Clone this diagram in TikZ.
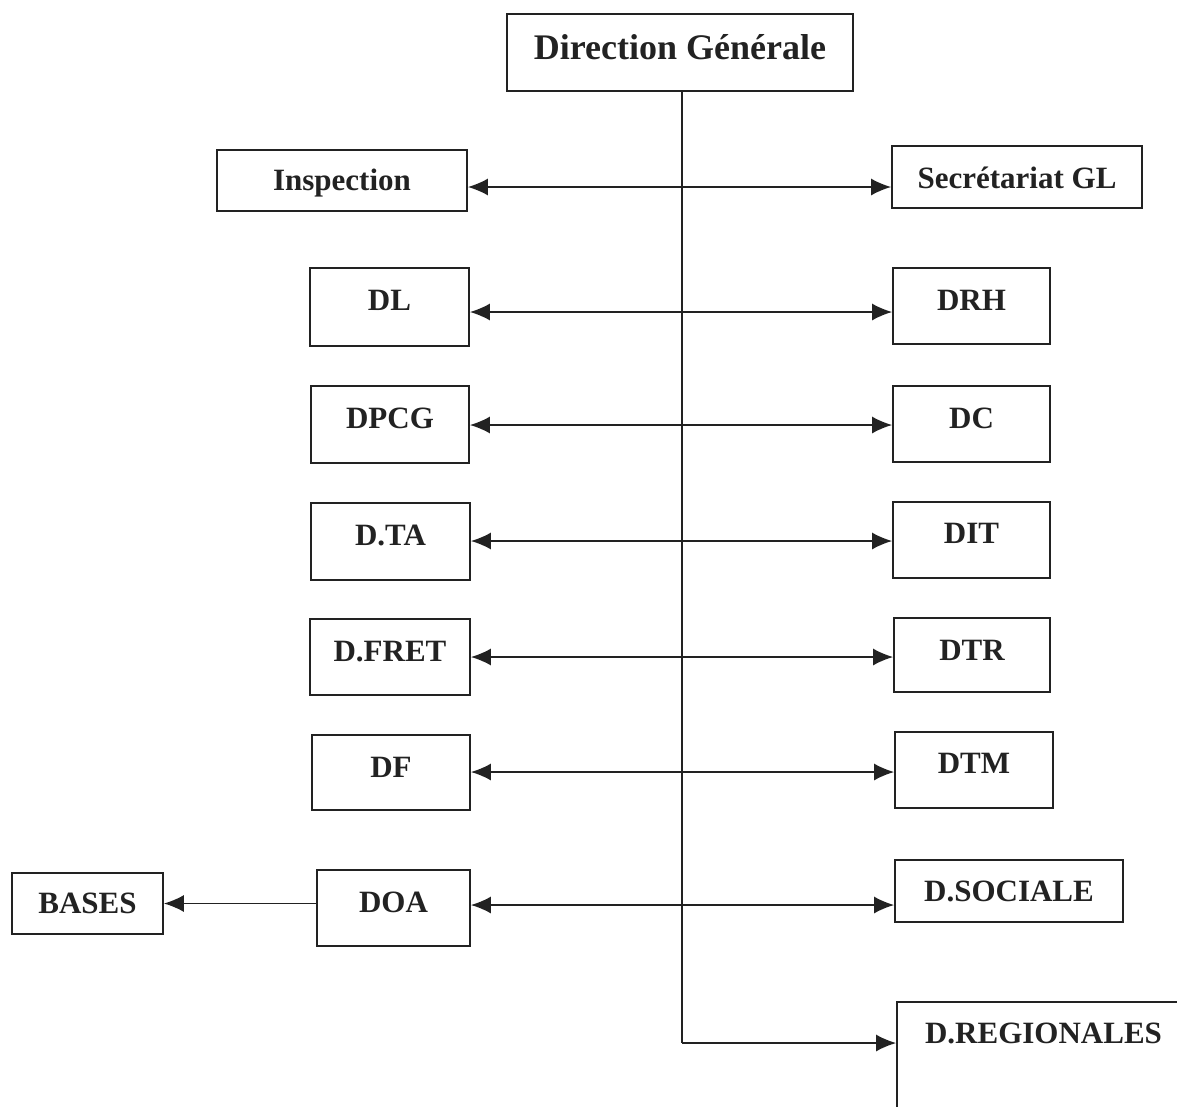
\documentclass[tikz,border=0pt]{standalone}
\usepackage{fontspec}
\setmainfont{Liberation Serif}
\usetikzlibrary{arrows.meta}
\definecolor{ink}{HTML}{222222}
\tikzset{
  tip/.tip={Latex[length=20pt,width=17pt]},
  box/.style={draw=ink, line width=1.8pt, inner sep=0pt, text=ink,
    font=\fontsize{31}{36}\selectfont\bfseries},
  link/.style={draw=ink, line width=1.5pt, tip-tip},
  onelink/.style={draw=ink, line width=1.5pt, -tip},
  spine/.style={draw=ink, line width=1.5pt}
}
% text lifted inside its box without changing the box size
\newcommand{\up}[2]{\raisebox{#1pt}[\height][\depth]{#2}}
\begin{document}
\begin{tikzpicture}[x=1pt,y=-1pt]
\useasboundingbox (0,0) rectangle (1177,1106);
\clip (0,0) rectangle (1177,1106);
\fill[white] (0,0) rectangle (1177,1106);

% head of the organisation
\node[box, minimum width=346, minimum height=77,
  font=\fontsize{36}{40}\selectfont\bfseries] (dg) at (680,52.5) {\up{5}{Direction Générale}};

% left column
\node[box, minimum width=250, minimum height=61] (insp) at (342,180.5) {\up{-3}{Inspection}};
\node[box, minimum width=159, minimum height=78] (dl)   at (389.5,307) {\up{7}{DL}};
\node[box, minimum width=158, minimum height=77] (dpcg) at (390,424.5) {\up{6.5}{DPCG}};
\node[box, minimum width=159, minimum height=77] (dta)  at (390.5,541.5) {\up{6.5}{D.TA}};
\node[box, minimum width=160, minimum height=76] (dfret) at (390,657) {\up{5.5}{D.FRET}};
\node[box, minimum width=158, minimum height=75] (df)   at (391,772.5) {\up{5.5}{DF}};
\node[box, minimum width=153, minimum height=76] (doa)  at (393.5,908) {\up{5.5}{DOA}};
\node[box, minimum width=151, minimum height=61] (bases) at (87.5,903.5) {BASES};

% right column
\node[box, minimum width=250, minimum height=62] (sec)  at (1017,177) {\up{-1}{Secrétariat GL}};
\node[box, minimum width=157, minimum height=76] (drh)  at (971.5,306) {\up{6}{DRH}};
\node[box, minimum width=157, minimum height=76] (dc)   at (971.5,424) {\up{6}{DC}};
\node[box, minimum width=157, minimum height=76] (dit)  at (971.5,540) {\up{7}{DIT}};
\node[box, minimum width=156, minimum height=74] (dtr)  at (972,655) {\up{5}{DTR}};
\node[box, minimum width=158, minimum height=76] (dtm)  at (974,770) {\up{6.5}{DTM}};
\node[box, minimum width=228, minimum height=62] (dsoc) at (1009,891) {D.SOCIALE};
\node[box, minimum width=293, minimum height=128] (dreg) at (1043.5,1066) {\up{33}{D.REGIONALES}};

% trunk coming down from the head
\coordinate (turn) at (682,1043);
\coordinate (r1) at (682,187);
\coordinate (r2) at (682,312);
\coordinate (r3) at (682,425);
\coordinate (r4) at (682,541);
\coordinate (r5) at (682,657);
\coordinate (r6) at (682,772);
\coordinate (r7) at (682,905);

\draw[spine] (dg.south -| turn) -- (turn);
\draw[onelink] (turn) -- (dreg.west |- turn);

% paired services
\draw[link] (insp.east |- r1) -- (sec.west |- r1);
\draw[link] (dl.east |- r2) -- (drh.west |- r2);
\draw[link] (dpcg.east |- r3) -- (dc.west |- r3);
\draw[link] (dta.east |- r4) -- (dit.west |- r4);
\draw[link] (dfret.east |- r5) -- (dtr.west |- r5);
\draw[link] (df.east |- r6) -- (dtm.west |- r6);
\draw[link] (doa.east |- r7) -- (dsoc.west |- r7);

% operations to the bases
\draw[onelink] (doa.west |- bases) -- (bases.east);
\end{tikzpicture}
\end{document}
